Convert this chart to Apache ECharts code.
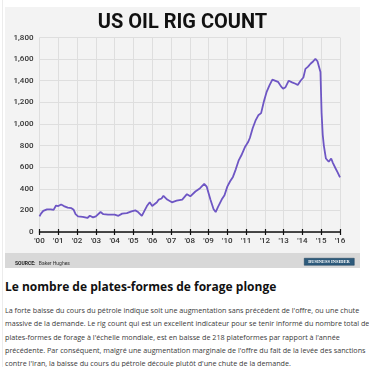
<!DOCTYPE html>
<html>
<head>
<meta charset="utf-8">
<script src="https://cdn.jsdelivr.net/npm/echarts@6/dist/echarts.min.js"></script>
<style>
  html, body { margin:0; padding:0; background:#ffffff; width:369px; height:367px; overflow:hidden; }
  #edge { position:absolute; left:2px; top:0; width:1px; height:367px; background:#ececec; }
  #chart { position:absolute; left:5px; top:7px; width:355px; height:261px; }
  #head { position:absolute; left:5px; top:278px; font-family:"Open Sans", sans-serif; font-weight:700; font-size:12px; color:#111; white-space:nowrap; }
  #para { position:absolute; left:5px; top:304px; font-family:"Open Sans", sans-serif; font-size:7.2px; line-height:13.3px; color:#3a3a3a; white-space:nowrap; }
</style>
</head>
<body>
<div id="edge"></div>
<div id="chart"></div>
<div id="head">Le nombre de plates-formes de forage plonge</div>
<div id="para">La forte baisse du cours du pétrole indique soit une augmentation sans précédent de l'offre, ou une chute<br>massive de la demande. Le rig count qui est un excellent indicateur pour se tenir informé du nombre total de<br>plates-formes de forage à l'échelle mondiale, est en baisse de 218 plateformes par rapport à l'année<br>précédente. Par conséquent, malgré une augmentation marginale de l'offre du fait de la levée des sanctions<br>contre l'Iran, la baisse du cours du pétrole découle plutôt d'une chute de la demande.</div>
<script>
var titleText = "US OIL RIG COUNT";
var sourceLabel = "SOURCE:";
var sourceName = "Baker Hughes";
var brand = "BUSINESS INSIDER";
var yTicks = [0, 200, 400, 600, 800, 1000, 1200, 1400, 1600, 1800];
var years = [
  2000.00, 2000.08, 2000.20, 2000.40, 2000.60, 2000.75, 2000.88, 2001.00, 2001.15, 2001.30,
  2001.50, 2001.70, 2001.82, 2001.92, 2002.05, 2002.30, 2002.55, 2002.68, 2002.85, 2003.00,
  2003.10, 2003.25, 2003.40, 2003.65, 2004.00, 2004.20, 2004.40, 2004.65, 2004.90, 2005.10,
  2005.25, 2005.45, 2005.60, 2005.72, 2005.87, 2006.00, 2006.10, 2006.25, 2006.35, 2006.50,
  2006.60, 2006.80, 2007.05, 2007.30, 2007.60, 2007.85, 2008.03, 2008.30, 2008.55, 2008.77,
  2008.90, 2009.10, 2009.27, 2009.38, 2009.50, 2009.70, 2009.85, 2010.00, 2010.15, 2010.30,
  2010.45, 2010.60, 2010.75, 2010.95, 2011.10, 2011.20, 2011.35, 2011.50, 2011.65, 2011.80,
  2011.95, 2012.10, 2012.25, 2012.40, 2012.50, 2012.70, 2012.85, 2012.97, 2013.10, 2013.27,
  2013.45, 2013.63, 2013.75, 2013.90, 2014.05, 2014.16, 2014.30, 2014.43, 2014.58, 2014.69,
  2014.80, 2014.90, 2014.96, 2015.02, 2015.08, 2015.14, 2015.25, 2015.40, 2015.53, 2015.62,
  2015.76, 2015.88, 2016.00
];
var rigs = [
  145, 170, 195, 210, 210, 205, 245, 240, 255, 240,
  225, 220, 205, 165, 145, 140, 130, 150, 135, 145,
  130, 185, 165, 160, 160, 150, 170, 175, 190, 200,
  185, 150, 200, 240, 275, 240, 255, 275, 300, 310,
  335, 300, 275, 290, 300, 350, 330, 375, 405, 445,
  420, 300, 210, 185, 230, 300, 340, 420, 470, 510,
  580, 660, 710, 790, 830, 870, 960, 1030, 1080, 1100,
  1210, 1300, 1360, 1410, 1420, 1390, 1350, 1326, 1340, 1400,
  1385, 1372, 1360, 1400, 1430, 1510, 1530, 1557, 1580, 1603,
  1580, 1570, 1480, 1100, 900, 800, 680, 650, 680, 640,
  590, 550, 505
];

var chart = echarts.init(document.getElementById('chart'), null, { renderer: 'canvas' });
var lineData = years.map(function (y, i) { return [y, rigs[i]]; });

chart.setOption({
  backgroundColor: '#f3f3f3',
  animation: false,
  title: {
    text: titleText,
    left: 'center',
    top: 1,
    textStyle: { fontFamily: '"Liberation Sans Narrow", Roboto, sans-serif', fontWeight: 'bold', fontSize: 20, color: '#111' }
  },
  grid: { left: 34.5, right: 20, top: 30.5, bottom: 36 },
  xAxis: [{
    type: 'value', min: 2000, max: 2016, interval: 1,
    axisLine: { show: true, lineStyle: { color: '#111', width: 1.5 } },
    axisTick: { show: true, length: 3, lineStyle: { color: '#111', width: 1.2 } },
    axisLabel: { fontFamily: 'Roboto, sans-serif', fontWeight: 500, fontSize: 8, color: '#333', margin: 5,
      formatter: function (v) { return "'" + String(v).slice(2); } },
    splitLine: { show: true, lineStyle: { color: '#dedede', width: 1 } }
  }, {
    type: 'value', min: 2000, max: 2016, interval: 1, position: 'bottom',
    axisLine: { show: false },
    axisTick: { show: true, inside: true, length: 3, lineStyle: { color: '#111', width: 1.2 } },
    axisLabel: { show: false },
    splitLine: { show: false }
  }],
  yAxis: {
    type: 'value', min: yTicks[0], max: yTicks[yTicks.length - 1], interval: 200,
    axisLine: { show: false }, axisTick: { show: false },
    axisLabel: { fontFamily: 'Roboto, sans-serif', fontWeight: 500, fontSize: 8, color: '#333', margin: 6,
      formatter: function (v) { return v.toLocaleString('en-US'); } },
    splitLine: { show: true, lineStyle: { color: '#dedede', width: 1 } }
  },
  series: [{
    type: 'line', xAxisIndex: 0, data: lineData, showSymbol: false,
    lineStyle: { color: '#6e56c4', width: 1.8 }
  }],
  graphic: [
    { type: 'rect', left: 0, top: 246, shape: { width: 355, height: 15 }, style: { fill: '#d8d8d8' }, silent: true },
    { type: 'text', left: 10, top: 250.3, style: {
        text: '{b|' + sourceLabel + '} {n|' + sourceName + '}',
        rich: {
          b: { fontFamily: 'Roboto, sans-serif', fontWeight: 'bold', fontSize: 5, fill: '#222' },
          n: { fontFamily: 'Roboto, sans-serif', fontSize: 5, fill: '#333' }
        } } },
    { type: 'rect', left: 299, top: 251, shape: { width: 50, height: 7 }, style: { fill: '#2d5a7b', stroke: '#1d3f58', lineWidth: 0.5 } },
    { type: 'text', style: { x: 324, y: 254.6, text: brand, font: 'bold 4.5px "Liberation Serif", serif', fill: '#ffffff', align: 'center', verticalAlign: 'middle' } }
  ]
});
</script>
</body>
</html>
